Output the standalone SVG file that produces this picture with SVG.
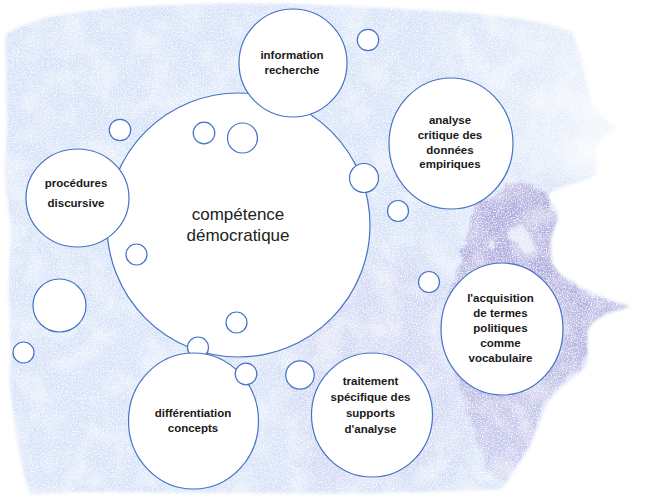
<svg xmlns="http://www.w3.org/2000/svg" width="648" height="497" viewBox="0 0 648 497">
<style>
.n{fill:#fff;stroke:#4472c4;stroke-width:1.2}
.b{fill:#fff;stroke:#4472c4;stroke-width:1.2}
.lbl{font-family:"Liberation Sans",Arial,sans-serif;font-weight:bold;font-size:11.5px;fill:#1a1a1a;text-anchor:middle}
.main{font-family:"Liberation Sans",Arial,sans-serif;font-size:17px;fill:#222;text-anchor:middle}
</style>
<defs>
<filter id="blur1" x="-5%" y="-5%" width="110%" height="110%"><feGaussianBlur stdDeviation="1.5"/></filter>
<filter id="blur2" x="-20%" y="-20%" width="140%" height="140%"><feGaussianBlur stdDeviation="2.5"/></filter>
<filter id="blur8" x="-30%" y="-30%" width="160%" height="160%"><feGaussianBlur stdDeviation="12"/></filter>
<filter id="rough" x="-10%" y="-10%" width="120%" height="120%">
<feTurbulence type="fractalNoise" baseFrequency="0.06" numOctaves="3" seed="11" result="n"/>
<feDisplacementMap in="SourceGraphic" in2="n" scale="14" xChannelSelector="R" yChannelSelector="G" result="d"/>
<feGaussianBlur in="d" stdDeviation="1.2"/>
</filter>
<mask id="washMask" maskUnits="userSpaceOnUse" x="0" y="0" width="648" height="497">
<path filter="url(#blur1)" fill="#fff" d="M6,34 C20,26 40,18 60,15 C90,10 120,7 150,6 C200,3 260,2 320,5 C380,8 430,10 470,13 C510,17 545,21 572,32 C580,50 585,75 590,98 C595,112 605,120 618,128 C605,133 598,140 596,152 C596,162 600,170 592,178 C575,184 556,186 548,196 C552,206 562,214 558,222 C550,235 549,252 554,266 C565,282 600,296 632,307 C612,312 594,318 588,330 C586,345 592,360 583,370 C570,380 553,392 545,408 C538,425 535,440 525,455 C514,468 512,480 500,489 C470,491 430,492 380,493 C300,494 200,493 100,492 C70,492 45,494 30,494 C22,470 16,440 14,420 C12,400 9,385 10,370 C12,340 8,300 9,280 C10,250 12,235 10,220 C6,190 3,170 6,150 C9,120 5,90 6,70 C6,55 5,44 6,34 Z"/>
</mask>
<linearGradient id="fadeTR" x1="0" y1="0" x2="1" y2="0.3">
<stop offset="0" stop-color="#fff" stop-opacity="0"/>
<stop offset="0.55" stop-color="#fff" stop-opacity="0.25"/>
<stop offset="1" stop-color="#fff" stop-opacity="0.75"/>
</linearGradient>
<linearGradient id="purp" x1="0" y1="0" x2="0" y2="1">
<stop offset="0" stop-color="#aaa5d9" stop-opacity="0.9"/>
<stop offset="0.55" stop-color="#aea9dc" stop-opacity="0.8"/>
<stop offset="1" stop-color="#bdb8e4" stop-opacity="0.45"/>
</linearGradient>
<filter id="speck" x="0" y="0" width="100%" height="100%">
<feTurbulence type="fractalNoise" baseFrequency="0.8" numOctaves="2" seed="7" result="t"/>
<feColorMatrix in="t" type="matrix" values="0 0 0 0 1  0 0 0 0 1  0 0 0 0 1  0 0 0 -3 1.7"/>
</filter>
<filter id="mottle" x="0" y="0" width="100%" height="100%">
<feTurbulence type="fractalNoise" baseFrequency="0.035" numOctaves="4" seed="3" result="t"/>
<feColorMatrix in="t" type="matrix" values="0 0 0 0 1  0 0 0 0 1  0 0 0 0 1  0 0 0 -3 1.75"/>
</filter>
</defs>

<g id="background">
<g mask="url(#washMask)">
<rect x="0" y="0" width="648" height="497" fill="#d7e3f8"/>
<path d="M300,270 C350,250 420,250 450,270 L460,470 C420,490 340,490 300,480 C290,420 290,330 300,270 Z" fill="#cdc8ee" opacity="0.35" filter="url(#blur8)"/>
<path d="M500,186 C520,180 545,185 550,200 C562,215 552,240 553,262 C560,282 600,298 630,307 C605,312 588,322 588,345 C590,365 570,378 550,395 C537,415 535,440 520,465 C512,480 495,486 485,470 C478,440 470,420 462,400 C455,380 460,350 455,320 C450,290 455,270 462,250 C470,230 470,205 500,186 Z" fill="url(#purp)" filter="url(#rough)"/>
<rect x="0" y="0" width="648" height="497" filter="url(#mottle)" opacity="0.4"/>
<path d="M440,0 L648,0 L648,190 C600,185 540,175 460,150 Z" fill="url(#fadeTR)" filter="url(#blur8)"/>
<path d="M507,230 C512,224 522,226 527,231 C533,238 537,243 534,250 C528,253 522,248 518,244 C512,243 505,238 507,230 Z M491,240 C494,236 499,238 499,244 C497,249 492,248 491,240 Z" fill="#edf1fb" opacity="0.85" filter="url(#rough)"/>
<path d="M440,300 C470,296 520,300 560,306 C530,318 470,322 440,318 Z" fill="#e3e9f9" opacity="0.5" filter="url(#blur2)"/>
<rect x="0" y="0" width="648" height="497" filter="url(#speck)" opacity="0.85"/>
</g>
</g>

<g id="connectors"/>

<g id="node-competence">
<ellipse class="b" cx="238.5" cy="225" rx="131.5" ry="132"/>
<text class="main" x="238" y="220">compétence</text>
<text class="main" x="238" y="241">démocratique</text>
</g>

<g id="node-information">
<ellipse class="n" cx="293" cy="63" rx="54" ry="54"/>
<text class="lbl" x="292" y="59">information</text>
<text class="lbl" x="292" y="74">recherche</text>
</g>

<g id="node-procedures">
<ellipse class="n" cx="77.5" cy="198" rx="51.5" ry="49"/>
<text class="lbl" x="76" y="187">procédures</text>
<text class="lbl" x="76" y="207">discursive</text>
</g>

<g id="node-analyse">
<ellipse class="n" cx="451" cy="143.5" rx="62" ry="65.5"/>
<text class="lbl" x="450" y="124">analyse</text>
<text class="lbl" x="450" y="139">critique des</text>
<text class="lbl" x="450" y="154">données</text>
<text class="lbl" x="450" y="168">empiriques</text>
</g>

<g id="bubbles">
<circle class="n" cx="368" cy="40" r="10.7"/>
<circle class="n" cx="120" cy="130" r="10.7"/>
<circle class="n" cx="204" cy="133" r="10.8"/>
<circle class="n" cx="242.5" cy="138" r="15"/>
<circle class="n" cx="364" cy="178" r="14.5"/>
<circle class="n" cx="398" cy="211" r="10.5"/>
<circle class="n" cx="136.5" cy="254.5" r="10.5"/>
<circle class="n" cx="429" cy="282" r="10.5"/>
<ellipse class="n" cx="59.5" cy="305.5" rx="26.5" ry="26.5"/>
<circle class="n" cx="23.5" cy="352.5" r="10.5"/>
<circle class="n" cx="236.5" cy="322.5" r="10.5"/>
<circle class="n" cx="198" cy="347.5" r="10.5"/>
<circle class="n" cx="300" cy="375" r="14.2"/>
</g>

<g id="node-differentiation">
<ellipse class="n" cx="193.5" cy="421" rx="65" ry="68"/>
<text class="lbl" x="193" y="417">différentiation</text>
<text class="lbl" x="193" y="432">concepts</text>
</g>

<g id="node-traitement">
<ellipse class="n" cx="372" cy="415" rx="60.5" ry="62"/>
<text class="lbl" x="370.5" y="385">traitement</text>
<text class="lbl" x="370.5" y="401">spécifique des</text>
<text class="lbl" x="370.5" y="417">supports</text>
<text class="lbl" x="370.5" y="433">d'analyse</text>
</g>

<g id="node-acquisition">
<ellipse class="n" cx="502" cy="329" rx="61" ry="66"/>
<text class="lbl" x="500.5" y="302">l'acquisition</text>
<text class="lbl" x="500.5" y="317">de termes</text>
<text class="lbl" x="500.5" y="332">politiques</text>
<text class="lbl" x="500.5" y="347">comme</text>
<text class="lbl" x="500.5" y="362">vocabulaire</text>
</g>

<g id="bubble-front">
<circle class="n" cx="246" cy="374" r="10.8"/>
</g>
</svg>
